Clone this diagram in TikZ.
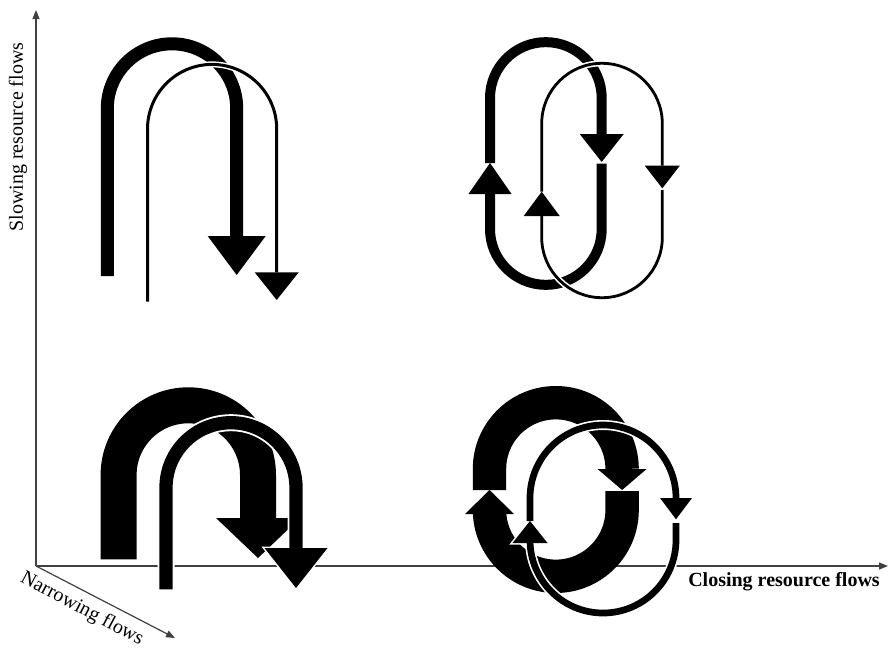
\documentclass[tikz,border=0pt]{standalone}
\usepackage{fontspec}
\setmainfont{Liberation Serif}
\usetikzlibrary{arrows.meta}
\begin{document}
\begin{tikzpicture}[x=1pt,y=-1pt,
  axisline/.style={draw=black!75, line width=1.2pt, -{Triangle[length=9pt,width=7pt]}},
  lab/.style={font=\fontsize{20}{24}\selectfont, inner sep=0pt},
  flow/.style={draw=black, line width=#1, line cap=butt},
  halo/.style={draw=white, line width=#1, line cap=butt},
  head/.style={fill=black, draw=none},
  headhalo/.style={fill=white, draw=white, line width=3pt, line join=miter}]
\useasboundingbox (0,0) rectangle (888,648);

% axes
\coordinate (O) at (36,566);
\coordinate (Ytip) at (36,10);
\coordinate (Xtip) at (888,566);
\coordinate (Ztip) at (175,638);
\draw[axisline] (O) -- (Ytip);
\draw[axisline] (O) -- (Xtip);
\draw[axisline] (O) -- (Ztip);
\node[lab, rotate=90] (ylab) at (18,137) {Slowing resource flows};
\node[lab, font=\bfseries\fontsize{20}{24}\selectfont] (xlab) at (784,582) {Closing resource flows};
\node[lab, rotate=-28] (zlab) at (82,609) {Narrowing flows};

% ---------- top-left ----------
\draw[flow=13pt] (107.3,276) -- (107.3,108.5) arc(180:360:64.7) -- (236.7,236);
\fill[head] (207.7,236) -- (265.7,236) -- (236.7,275) -- cycle;
\draw[halo=6pt] (147.5,301.7) -- (147.5,129) arc(180:360:64.6) -- (276.7,272.3);
\draw[flow=3pt] (147.5,301.7) -- (147.5,129) arc(180:360:64.6) -- (276.7,272.3);
\fill[head] (254.7,272.3) -- (298.7,272.3) -- (276.7,300) -- cycle;

% ---------- top-right ----------
\draw[flow=10pt] (490,163) -- (490,98) arc(180:360:55.85) -- (601.7,134);
\fill[head] (579.7,134) -- (623.7,134) -- (601.7,162) -- cycle;
\draw[flow=10pt] (601.7,163.5) -- (601.7,229) arc(0:180:55.85) -- (490,194);
\fill[head] (468.5,194) -- (511.5,194) -- (490,163) -- cycle;
% thin loop halos
\draw[halo=6pt] (541.7,191.7) -- (541.7,123.6) arc(180:360:60.3) -- (662.3,165.7);
\draw[halo=6pt] (662.3,190) -- (662.3,237.4) arc(0:180:60.3) -- (541.7,216);
% thin loop
\draw[flow=2.8pt] (541.7,191.7) -- (541.7,123.6) arc(180:360:60.3) -- (662.3,165.7);
\fill[head] (644.8,165.7) -- (679.8,165.7) -- (662.3,188.3) -- cycle;
\draw[flow=2.8pt] (662.3,190) -- (662.3,237.4) arc(0:180:60.3) -- (541.7,216);
\fill[head] (523.7,216) -- (559.7,216) -- (541.7,191.7) -- cycle;

% ---------- bottom-left ----------
\draw[flow=36pt] (118.6,559.3) -- (118.6,475) arc(180:360:69.7) -- (258,518);
\fill[head] (216,518) -- (300,518) -- (258,558) -- cycle;
\draw[halo=17pt] (166,589.3) -- (166,487.7) arc(180:360:65) -- (296,548);
\filldraw[headhalo] (264.5,548) -- (327.5,548) -- (296,588) -- cycle;
\draw[flow=13.3pt] (166,589.3) -- (166,487.7) arc(180:360:65) -- (296,548);
\fill[head] (264.5,548) -- (327.5,548) -- (296,588) -- cycle;

% ---------- bottom-right ----------
\draw[flow=33.4pt] (489.5,490) -- (489.5,469) arc(180:360:66.3);
\fill[head] (597.6,469) -- (646.6,469) -- (622.1,490) -- cycle;
\draw[flow=33.4pt] (622.1,491) -- (622.1,510) arc(0:180:66.3) -- (489.5,514);
\fill[head] (465,514) -- (514,514) -- (489.5,490) -- cycle;
% thin loop halos
\draw[halo=10pt] (530,521) -- (530,498) arc(180:360:73);
\filldraw[headhalo] (660,498) -- (692,498) -- (676,519.3) -- cycle;
\draw[halo=10pt] (676,523) -- (676,540) arc(0:180:73);
\filldraw[headhalo] (512.5,543) -- (547.5,543) -- (530,521) -- cycle;
% thin loop
\draw[flow=6.7pt] (530,521) -- (530,498) arc(180:360:73);
\fill[head] (660,498) -- (692,498) -- (676,519.3) -- cycle;
\draw[flow=6.7pt] (676,523) -- (676,540) arc(0:180:73);
\fill[head] (512.5,543) -- (547.5,543) -- (530,521) -- cycle;
\end{tikzpicture}
\end{document}
